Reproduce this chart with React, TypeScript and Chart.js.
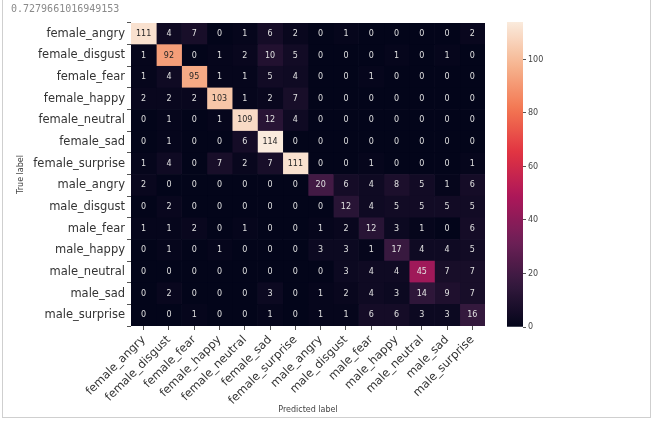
import React, { useEffect, useRef } from "react";
import { Chart, registerables } from "chart.js";

Chart.register(...registerables);

const classLabels = [
  "female_angry", "female_disgust", "female_fear", "female_happy", "female_neutral",
  "female_sad", "female_surprise", "male_angry", "male_disgust", "male_fear",
  "male_happy", "male_neutral", "male_sad", "male_surprise",
];

const rowFemaleAngry = [111, 4, 7, 0, 1, 6, 2, 0, 1, 0, 0, 0, 0, 2];
const rowFemaleDisgust = [1, 92, 0, 1, 2, 10, 5, 0, 0, 0, 1, 0, 1, 0];
const rowFemaleFear = [1, 4, 95, 1, 1, 5, 4, 0, 0, 1, 0, 0, 0, 0];
const rowFemaleHappy = [2, 2, 2, 103, 1, 2, 7, 0, 0, 0, 0, 0, 0, 0];
const rowFemaleNeutral = [0, 1, 0, 1, 109, 12, 4, 0, 0, 0, 0, 0, 0, 0];
const rowFemaleSad = [0, 1, 0, 0, 6, 114, 0, 0, 0, 0, 0, 0, 0, 0];
const rowFemaleSurprise = [1, 4, 0, 7, 2, 7, 111, 0, 0, 1, 0, 0, 0, 1];
const rowMaleAngry = [2, 0, 0, 0, 0, 0, 0, 20, 6, 4, 8, 5, 1, 6];
const rowMaleDisgust = [0, 2, 0, 0, 0, 0, 0, 0, 12, 4, 5, 5, 5, 5];
const rowMaleFear = [1, 1, 2, 0, 1, 0, 0, 1, 2, 12, 3, 1, 0, 6];
const rowMaleHappy = [0, 1, 0, 1, 0, 0, 0, 3, 3, 1, 17, 4, 4, 5];
const rowMaleNeutral = [0, 0, 0, 0, 0, 0, 0, 0, 3, 4, 4, 45, 7, 7];
const rowMaleSad = [0, 2, 0, 0, 0, 3, 0, 1, 2, 4, 3, 14, 9, 7];
const rowMaleSurprise = [0, 0, 1, 0, 0, 1, 0, 1, 1, 6, 6, 3, 3, 16];

const matrix = [
  rowFemaleAngry, rowFemaleDisgust, rowFemaleFear, rowFemaleHappy, rowFemaleNeutral,
  rowFemaleSad, rowFemaleSurprise, rowMaleAngry, rowMaleDisgust, rowMaleFear,
  rowMaleHappy, rowMaleNeutral, rowMaleSad, rowMaleSurprise,
];

const accuracyText = "0.7279661016949153";
const colorbarTicks = [0, 20, 40, 60, 80, 100];
const vMin = 0;
const vMax = 114;

// rocket colormap stops
const rocketStops = ["#03051a", "#35193e", "#701f57", "#ad1759", "#e13342", "#f37651", "#f6b48f", "#faebdd"];

function hexToRgb(h: string) {
  return [parseInt(h.slice(1, 3), 16), parseInt(h.slice(3, 5), 16), parseInt(h.slice(5, 7), 16)];
}
const rocketRgb = rocketStops.map(hexToRgb);

function rocket(t: number) {
  const x = Math.max(0, Math.min(1, t)) * (rocketRgb.length - 1);
  const i = Math.min(rocketRgb.length - 2, Math.floor(x));
  const f = x - i;
  const a = rocketRgb[i];
  const b = rocketRgb[i + 1];
  return [0, 1, 2].map((k) => Math.round(a[k] + (b[k] - a[k]) * f));
}
function rgbStr(c: number[]) {
  return `rgb(${c[0]},${c[1]},${c[2]})`;
}
function lum(c: number[]) {
  const l = c.map((v) => {
    const s = v / 255;
    return s <= 0.03928 ? s / 12.92 : Math.pow((s + 0.055) / 1.055, 2.4);
  });
  return 0.2126 * l[0] + 0.7152 * l[1] + 0.0722 * l[2];
}
const norm = (v: number) => (v - vMin) / (vMax - vMin);

const FONT = "'DejaVu Sans', sans-serif";

export default function App() {
  const mainRef = useRef<HTMLCanvasElement>(null);
  const cbRef = useRef<HTMLCanvasElement>(null);

  useEffect(() => {
    const annotate = {
      id: "annotate",
      afterDatasetsDraw(chart: any) {
        const ctx = chart.ctx;
        ctx.save();
        ctx.font = `8px ${FONT}`;
        ctx.textAlign = "center";
        ctx.textBaseline = "middle";
        chart.data.datasets.forEach((ds: any, j: number) => {
          const meta = chart.getDatasetMeta(j);
          meta.data.forEach((el: any, i: number) => {
            const v = matrix[i][j];
            const c = rocket(norm(v));
            ctx.fillStyle = lum(c) > 0.408 ? "#262626" : "#e0e0e0";
            const p = el.getCenterPoint();
            ctx.fillText(String(v), p.x, p.y);
          });
        });
        ctx.fillStyle = "#8a8a8a";
        ctx.font = `10px 'DejaVu Sans Mono', monospace`;
        ctx.textAlign = "left";
        ctx.textBaseline = "middle";
        ctx.fillText(accuracyText, 11, 9);
        ctx.restore();
      },
    };

    const datasets = classLabels.map((_, j) => ({
      label: classLabels[j],
      data: classLabels.map(() => [j, j + 1]),
      backgroundColor: classLabels.map((__, i) => rgbStr(rocket(norm(matrix[i][j])))),
      borderWidth: 0,
      barPercentage: 1,
      categoryPercentage: 1,
      grouped: false,
    }));

    const main = new Chart(mainRef.current!, {
      type: "bar",
      data: { labels: classLabels, datasets: datasets as any },
      options: {
        indexAxis: "y",
        animation: false,
        responsive: false,
        devicePixelRatio: 1,
        layout: { padding: { left: 12, top: 23, right: 15, bottom: 7 } },
        plugins: { legend: { display: false }, tooltip: { enabled: false } },
        scales: {
          x: {
            type: "linear",
            min: 0,
            max: 14,
            afterBuildTicks: (axis: any) => {
              axis.ticks = classLabels.map((_, i) => ({ value: i + 0.5 }));
            },
            afterFit: (scale: any) => {
              scale.height = 90;
            },
            ticks: {
              autoSkip: false,
              minRotation: 45,
              maxRotation: 45,
              padding: 3,
              color: "#333",
              font: { family: FONT, size: 11.5 },
              callback: (_v: any, i: number) => classLabels[i],
            },
            grid: { drawOnChartArea: false, drawTicks: true, tickLength: 4, color: "#555" },
            border: { display: false },
            title: {
              display: true,
              text: "Predicted label",
              color: "#444",
              font: { family: FONT, size: 8 },
              padding: { top: 0, bottom: 1 },
            },
          },
          y: {
            type: "category",
            afterFit: (scale: any) => {
              scale.width = 119;
            },
            ticks: {
              autoSkip: false,
              padding: 2,
              color: "#333",
              font: { family: FONT, size: 11.5 },
            },
            grid: { drawOnChartArea: false, drawTicks: true, tickLength: 4, color: "#555", offset: true },
            border: { display: false },
            title: {
              display: true,
              text: "True label",
              color: "#444",
              font: { family: FONT, size: 8 },
              padding: { top: 4, bottom: 0 },
            },
          },
        },
      },
      plugins: [annotate],
    });

    const cb = new Chart(cbRef.current!, {
      type: "bar",
      data: {
        labels: ["cb"],
        datasets: [
          {
            data: [vMax],
            borderWidth: 0,
            barPercentage: 1,
            categoryPercentage: 1,
            backgroundColor: (c: any) => {
              const area = c.chart.chartArea;
              if (!area) return rocketStops[0];
              const g = c.chart.ctx.createLinearGradient(0, area.bottom, 0, area.top);
              for (let k = 0; k <= 40; k++) {
                g.addColorStop(k / 40, rgbStr(rocket(k / 40)));
              }
              return g;
            },
          },
        ],
      },
      options: {
        animation: false,
        responsive: false,
        devicePixelRatio: 1,
        layout: { padding: { left: 17, top: 22, right: 90, bottom: 96 } },
        plugins: { legend: { display: false }, tooltip: { enabled: false } },
        scales: {
          x: { display: false },
          y: {
            position: "right",
            min: vMin,
            max: vMax,
            afterBuildTicks: (axis: any) => {
              axis.ticks = colorbarTicks.map((v) => ({ value: v }));
            },
            afterFit: (scale: any) => {
              scale.width = 40;
            },
            ticks: { color: "#444", font: { family: FONT, size: 8 }, padding: 2 },
            grid: { drawOnChartArea: false, drawTicks: true, tickLength: 3, color: "#555" },
            border: { display: false },
          },
        },
      },
    });

    return () => {
      main.destroy();
      cb.destroy();
    };
  }, []);

  return (
    <div style={{ position: "fixed", left: 0, top: 0, width: 653, height: 423, background: "#fff", overflow: "hidden" }}>
      <div
        style={{
          position: "absolute",
          left: 2,
          top: -1,
          width: 647,
          height: 418,
          borderLeft: "1px solid #cfcfcf",
          borderRight: "1px solid #cfcfcf",
          borderBottom: "1px solid #cfcfcf",
        }}
      />
      <canvas ref={mainRef} width={500} height={423} style={{ position: "absolute", left: 0, top: 0 }} />
      <canvas ref={cbRef} width={163} height={423} style={{ position: "absolute", left: 490, top: 0 }} />
    </div>
  );
}
